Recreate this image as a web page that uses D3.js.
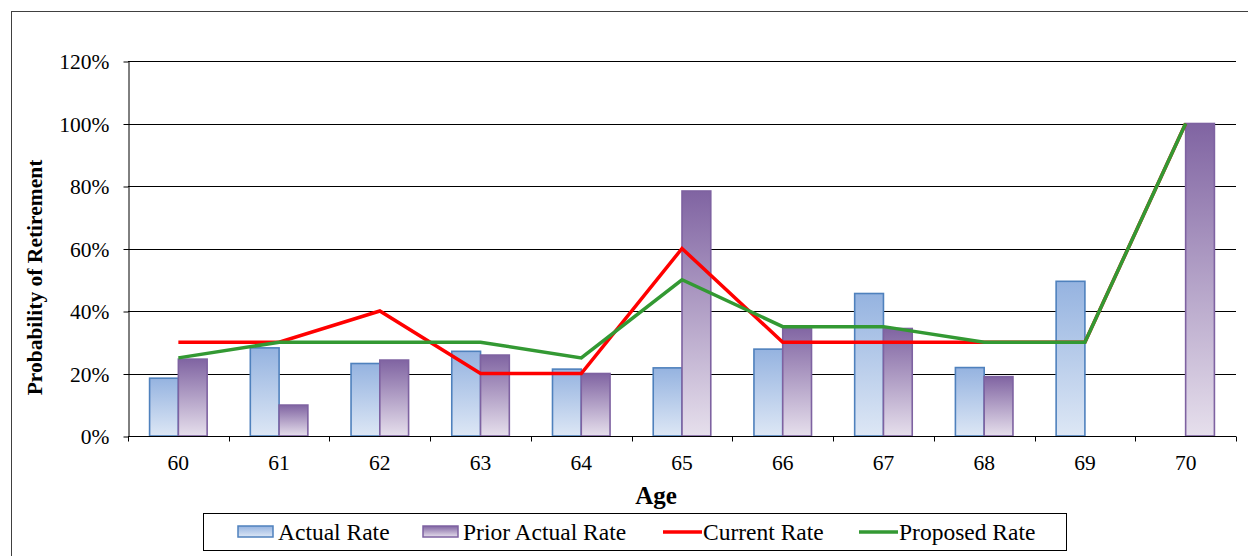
<!DOCTYPE html>
<html>
<head>
<meta charset="utf-8">
<script src="https://cdn.jsdelivr.net/npm/d3@7/dist/d3.min.js"></script>
<style>
  html, body { margin: 0; padding: 0; background: #fff; }
  svg { display: block; }
  svg text { font-family: "Liberation Serif", "Times New Roman", "DejaVu Serif", serif; }
</style>
</head>
<body>
<svg id="chart" width="1248" height="556"></svg>
<script>
// Retirement probability by age
const ages = [60, 61, 62, 63, 64, 65, 66, 67, 68, 69, 70];
const actualRate   = [0.185, 0.282, 0.232, 0.271, 0.214, 0.218, 0.278, 0.456, 0.219, 0.495, null];
const priorRate    = [0.246, 0.099, 0.243, 0.259, 0.200, 0.784, 0.351, 0.344, 0.190, null, 1.00];
const currentRate  = [0.30, 0.30, 0.40, 0.20, 0.20, 0.60, 0.30, 0.30, 0.30, 0.30, 1.00];
const proposedRate = [0.25, 0.30, 0.30, 0.30, 0.25, 0.50, 0.35, 0.35, 0.30, 0.30, 1.00];
const yTicks = [0, 0.2, 0.4, 0.6, 0.8, 1.0, 1.2];
const seriesNames = ["Actual Rate", "Prior Actual Rate", "Current Rate", "Proposed Rate"];

const FONT = "Liberation Serif, Times New Roman, serif";
const svg = d3.select("#chart").attr("font-family", FONT);
const plot = { left: 128, right: 1236, top: 61, bottom: 436 };

const x = d3.scaleBand().domain(ages).range([plot.left, plot.right]).padding(0);
const xSub = d3.scaleBand().domain(["actual", "prior"])
  .range([0, x.bandwidth()]).paddingInner(0).paddingOuter(0.75);
const y = d3.scaleLinear().domain([0, 1.2]).range([plot.bottom, plot.top]);

// gradients
const defs = svg.append("defs");
function grad(id, top, bottom) {
  const g = defs.append("linearGradient").attr("id", id)
    .attr("x1", 0).attr("y1", 0).attr("x2", 0).attr("y2", 1);
  g.append("stop").attr("offset", "0%").attr("stop-color", top);
  g.append("stop").attr("offset", "100%").attr("stop-color", bottom);
}
grad("gActual", "#95b3e0", "#dde7f5");
grad("gPrior", "#8064a2", "#e6dfec");

// outer frame
svg.append("rect").attr("x", 11.5).attr("y", 11.5).attr("width", 1300).attr("height", 600)
  .attr("fill", "none").attr("stroke", "#404040").attr("stroke-width", 1);

// gridlines
svg.append("g").selectAll("line").data(yTicks.filter(d => d > 0)).join("line")
  .attr("x1", plot.left).attr("x2", plot.right)
  .attr("y1", d => Math.round(y(d)) + 0.5).attr("y2", d => Math.round(y(d)) + 0.5)
  .attr("stroke", "#000").attr("stroke-width", 1);

// y axis
const yAxis = svg.append("g").attr("transform", `translate(${plot.left + 0.5},0.5)`)
  .call(d3.axisLeft(y).tickValues(yTicks).tickFormat(d3.format(".0%")).tickSize(5).tickSizeOuter(0))
  .attr("font-family", FONT).attr("font-size", 21.5);
yAxis.select(".domain").attr("stroke", "#000");
yAxis.selectAll(".tick line").attr("stroke", "#000");
yAxis.selectAll(".tick text").attr("fill", "#000").attr("x", -19).attr("dy", "0.34em");

// bars
const bars = svg.append("g");
ages.forEach((age, i) => {
  const groups = [
    { key: "actual", v: actualRate[i], fill: "url(#gActual)", stroke: "#4f81bd" },
    { key: "prior", v: priorRate[i], fill: "url(#gPrior)", stroke: "#7e62a1" }
  ];
  groups.forEach(b => {
    if (b.v == null) return;
    bars.append("rect")
      .attr("x", x(age) + xSub(b.key))
      .attr("y", y(b.v))
      .attr("width", xSub.bandwidth())
      .attr("height", y(0) - y(b.v))
      .attr("fill", b.fill)
      .attr("stroke", b.stroke)
      .attr("stroke-width", 1.6);
  });
});

// x axis
const xAxisG = svg.append("g").attr("transform", `translate(0,${plot.bottom + 0.5})`);
xAxisG.append("line").attr("x1", plot.left).attr("x2", plot.right)
  .attr("stroke", "#000").attr("stroke-width", 1);
const boundaries = ages.map(a => x(a)).concat([x(ages[ages.length - 1]) + x.bandwidth()]);
xAxisG.selectAll("line.tk").data(boundaries).join("line").attr("class", "tk")
  .attr("x1", d => Math.round(d) + 0.5).attr("x2", d => Math.round(d) + 0.5)
  .attr("y1", 0).attr("y2", 5).attr("stroke", "#000");
xAxisG.selectAll("text").data(ages).join("text")
  .attr("x", d => x(d) + x.bandwidth() / 2).attr("y", 33)
  .attr("text-anchor", "middle").attr("font-size", 21.5).attr("fill", "#000")
  .text(d => d);

// lines
const lineGen = d3.line().x((d, i) => x(ages[i]) + x.bandwidth() / 2).y(d => y(d));
svg.append("path").datum(currentRate).attr("d", lineGen)
  .attr("fill", "none").attr("stroke", "#ff0000").attr("stroke-width", 3.5).attr("stroke-linejoin", "miter");
svg.append("path").datum(proposedRate).attr("d", lineGen)
  .attr("fill", "none").attr("stroke", "#339933").attr("stroke-width", 3.5).attr("stroke-linejoin", "miter");

// axis titles
svg.append("text").attr("transform", `translate(42,${(plot.top + plot.bottom) / 2 + 29}) rotate(-90)`)
  .attr("text-anchor", "middle").attr("font-size", 21.5).attr("font-weight", "bold")
  .text("Probability of Retirement");
svg.append("text").attr("x", 656).attr("y", 504).attr("text-anchor", "middle")
  .attr("font-size", 25).attr("font-weight", "bold").text("Age");

// legend
const legend = svg.append("g");
legend.append("rect").attr("x", 203.5).attr("y", 513.5).attr("width", 863).attr("height", 37)
  .attr("fill", "#fff").attr("stroke", "#000").attr("stroke-width", 1);
const items = [
  { name: seriesNames[0], type: "bar", fill: "url(#gActual)", stroke: "#4f81bd", x: 238 },
  { name: seriesNames[1], type: "bar", fill: "url(#gPrior)", stroke: "#7e62a1", x: 423 },
  { name: seriesNames[2], type: "line", stroke: "#ff0000", x: 663 },
  { name: seriesNames[3], type: "line", stroke: "#339933", x: 859 }
];
items.forEach(it => {
  if (it.type === "bar") {
    legend.append("rect").attr("x", it.x).attr("y", 526).attr("width", 35).attr("height", 11)
      .attr("fill", it.fill).attr("stroke", it.stroke).attr("stroke-width", 1.5);
  } else {
    legend.append("line").attr("x1", it.x).attr("x2", it.x + 39).attr("y1", 532).attr("y2", 532)
      .attr("stroke", it.stroke).attr("stroke-width", 3.5);
  }
  legend.append("text").attr("x", it.x + 40).attr("y", 540).attr("font-size", 23.5)
    .attr("fill", "#000").text(it.name);
});
</script>
</body>
</html>
